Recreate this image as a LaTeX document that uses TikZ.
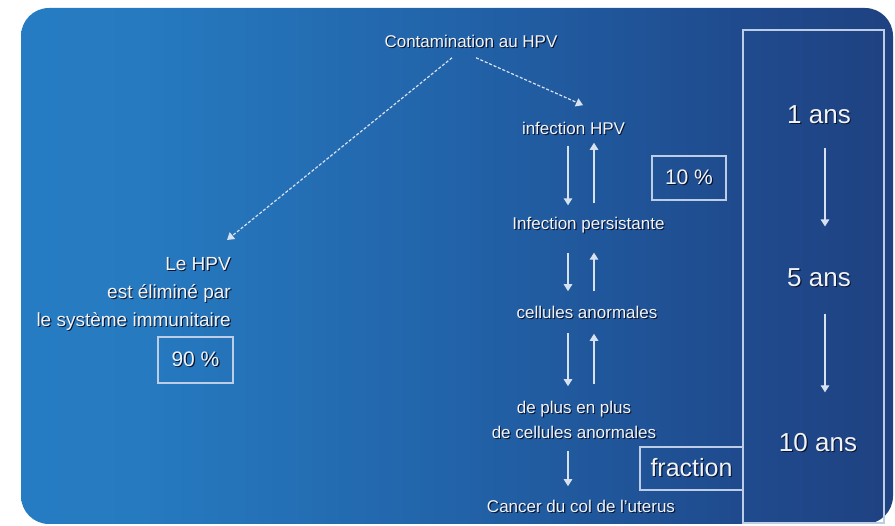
\documentclass[tikz,border=0pt]{standalone}
\usepackage{fontspec}
\setmainfont{Liberation Sans}
\usetikzlibrary{arrows.meta}
\definecolor{bgA}{RGB}{40,132,202}
\definecolor{bgB}{RGB}{38,122,192}
\definecolor{bgC}{RGB}{34,100,170}
\definecolor{bgD}{RGB}{31,75,142}
\definecolor{bgE}{RGB}{30,56,116}
\definecolor{bgF}{RGB}{30,48,104}
\definecolor{txtc}{RGB}{240,244,250}
\definecolor{shadc}{RGB}{10,20,45}
\definecolor{linec}{RGB}{215,225,240}
\definecolor{boxc}{RGB}{190,205,230}
\pgfdeclarehorizontalshading{bgsh}{100bp}{color(0bp)=(bgA); color(32bp)=(bgB); color(49bp)=(bgC); color(66bp)=(bgD); color(84bp)=(bgE); color(100bp)=(bgF)}
\newcommand\shd[1]{\leavevmode\rlap{\kern1.1pt\raisebox{-1.1pt}{\color{shadc}#1}}#1}
\tikzset{
  txt/.style={inner sep=0pt, text=txtc},
  small/.style={txt, font=\fontsize{17}{25}\selectfont, align=center},
  big/.style={txt, font=\fontsize{26}{30}\selectfont},
  arr/.style={draw=linec, line width=1.2pt, -{Triangle[width=8.5pt,length=7pt]}},
  darr/.style={arr, dash pattern=on 3pt off 1.8pt},
  pbox/.style={draw=boxc, line width=1.2pt, inner sep=0pt, text=txtc},
}
\begin{document}
\begin{tikzpicture}[x=1pt,y=-1pt]
\useasboundingbox (0,0) rectangle (895,526);
\fill[white] (0,0) rectangle (895,526);
\shade[shading=bgsh, rounded corners=28pt] (21,8) rectangle (893,524);

% time column box
\draw[draw=boxc, line width=1.2pt] (743,30) rectangle (884,523);

% text nodes
\node[small] (cont) at (471,42) {\shd{Contamination au HPV}};
\node[small] (inf) at (573.5,128.5) {\shd{infection HPV}};
\node[small] (pers) at (588.5,226) {\shd{Infection persistante}};
\node[small] (cell) at (587,313) {\shd{cellules anormales}};
\node[small] (plus) at (574,420.5) {\shd{de plus en plus}\\\shd{de cellules anormales}};
\node[small] (cancer) at (581,507) {\shd{Cancer du col de l'uterus}};
\node[txt, font=\fontsize{19}{28}\selectfont, align=right, anchor=north east] (elim) at (231,257)
  {\shd{Le HPV}\\\shd{est éliminé par}\\\shd{le système immunitaire}};

% percentage boxes
\node[pbox, minimum width=74pt, minimum height=44pt, font=\fontsize{21}{24}\selectfont] (p10) at (689,178) {\shd{10 \%}};
\node[pbox, minimum width=75pt, minimum height=46pt, font=\fontsize{21}{24}\selectfont] (p90) at (195.5,360) {\shd{90 \%}};
\node[pbox, minimum width=103pt, minimum height=43pt, font=\fontsize{25}{28}\selectfont] (frac) at (691.5,468.5) {\shd{fraction}};

% time labels
\node[big] (y1) at (819,115) {\shd{1 ans}};
\node[big] (y5) at (819,278) {\shd{5 ans}};
\node[big] (y10) at (818,443) {\shd{10 ans}};

% helper x positions
\coordinate (dx) at (568,0);
\coordinate (ux) at (594,0);
\coordinate (tx) at (825,0);

% dashed arrows from contamination
\draw[darr] ([xshift=-19pt,yshift=-8.8pt]cont.south) -- ([xshift=-4pt,yshift=17pt]elim.north east);
\draw[darr] ([xshift=5pt,yshift=-8.8pt]cont.south) -- ([xshift=9.5pt,yshift=16.3pt]inf.north);

% progression arrows
\draw[arr, shorten <=10.3pt, shorten >=12pt] (inf.south -| dx) -- (pers.north -| dx);
\draw[arr, shorten <=14pt, shorten >=7.3pt] (pers.north -| ux) -- (inf.south -| ux);
\draw[arr, shorten <=18pt, shorten >=14.8pt] (pers.south -| dx) -- (cell.north -| dx);
\draw[arr, shorten <=14.8pt, shorten >=18pt] (cell.north -| ux) -- (pers.south -| ux);
\draw[arr, shorten <=12.8pt, shorten >=14.8pt] (cell.south -| dx) -- (plus.north -| dx);
\draw[arr, shorten <=16.8pt, shorten >=13.8pt] (plus.north -| ux) -- (cell.south -| ux);
\draw[arr, shorten <=10.8pt, shorten >=13.8pt] (plus.south -| dx) -- (cancer.north -| dx);

% time arrows
\draw[arr, shorten <=22.7pt, shorten >=41.7pt] (y1.south -| tx) -- (y5.north -| tx);
\draw[arr, shorten <=25.7pt, shorten >=40.7pt] (y5.south -| tx) -- (y10.north -| tx);
\end{tikzpicture}
\end{document}
